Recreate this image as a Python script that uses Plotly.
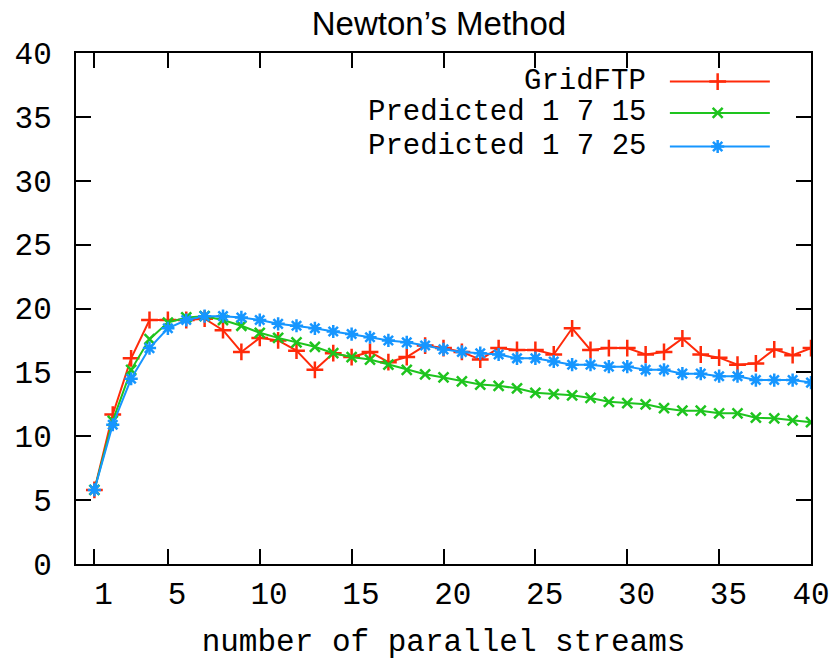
import plotly.graph_objects as go

streams = list(range(1, 41))
gridftp = [5.8, 11.7, 16.1, 19.1, 19.1, 19.1, 19.2, 18.3, 16.6, 17.7,
           17.5, 16.7, 15.2, 16.5, 16.2, 16.6, 15.8, 16.2, 17.1, 16.9,
           16.6, 16.0, 16.9, 16.75, 16.75, 16.4, 18.45, 16.75, 16.9, 16.9,
           16.4, 16.6, 17.65, 16.4, 16.15, 15.6, 15.7, 16.8, 16.35, 16.9]
pred_1_7_15 = [5.8, 11.2, 15.2, 17.6, 18.9, 19.3, 19.4, 19.1, 18.65, 18.1,
               17.7, 17.35, 17.0, 16.5, 16.2, 16.0, 15.6, 15.2, 14.85, 14.6,
               14.3, 14.05, 13.95, 13.75, 13.4, 13.3, 13.2, 13.0, 12.7, 12.6,
               12.5, 12.2, 12.0, 12.0, 11.8, 11.8, 11.45, 11.4, 11.25, 11.1]
pred_1_7_25 = [5.8, 10.9, 14.5, 16.9, 18.45, 19.1, 19.4, 19.4, 19.3, 19.1,
               18.8, 18.65, 18.45, 18.2, 18.0, 17.75, 17.5, 17.35, 17.1, 16.8,
               16.6, 16.5, 16.4, 16.1, 16.1, 15.85, 15.6, 15.6, 15.45, 15.45,
               15.2, 15.2, 14.9, 14.9, 14.7, 14.7, 14.4, 14.4, 14.4, 14.2]

series_names = ["GridFTP", "Predicted 1 7 15", "Predicted 1 7 25"]
x_tickvals = [1, 5, 10, 15, 20, 25, 30, 35, 40]
x_ticktext = ["\u00a01", "\u00a05", "\u00a010", "\u00a015", "\u00a020",
              "\u00a025", "\u00a030", "\u00a035", "40"]
y_tickvals = [0, 5, 10, 15, 20, 25, 30, 35, 40]

RED, GREEN, BLUE = "#ff2a0a", "#1ec41e", "#1696ff"
MONO = "Liberation Mono, DejaVu Sans Mono, monospace"
FS = 31

styles = [
    (gridftp, RED, "cross-thin", 12),
    (pred_1_7_15, GREEN, "x-thin", 10),
    (pred_1_7_25, BLUE, "asterisk", 11),
]

fig = go.Figure()
for (vals, col, sym, sz), name in zip(styles, series_names):
    fig.add_trace(go.Scatter(
        x=streams, y=vals, mode="lines+markers", name=name, showlegend=False,
        line=dict(color=col, width=2),
        marker=dict(symbol=sym, size=sz, color=col, line=dict(color=col, width=2.5)),
    ))

# manual legend (text right-aligned, sample on the right, as in gnuplot)
leg_y = [0.944, 0.8826, 0.817]
for (vals, col, sym, sz), name, ly in zip(styles, series_names, leg_y):
    fig.add_annotation(xref="paper", yref="paper", x=0.778, y=ly, text=name,
                       showarrow=False, xanchor="right", yanchor="middle",
                       font=dict(family=MONO, size=29, color="black"))
    fig.add_shape(type="line", xref="paper", yref="paper", x0=0.808, x1=0.944,
                  y0=ly, y1=ly, line=dict(color=col, width=2))
    fig.add_trace(go.Scatter(
        x=[0.873], y=[ly], xaxis="x2", yaxis="y2", mode="markers", showlegend=False,
        hoverinfo="skip",
        marker=dict(symbol=sym, size=sz, color=col, line=dict(color=col, width=2.5)),
    ))

# page body has an 8px margin, so the figure is sized/shifted to compensate
fig.update_layout(
    width=832, height=652,
    margin=dict(l=68, r=29, t=45, b=96, autoexpand=False),
    paper_bgcolor="white", plot_bgcolor="white",
    title=dict(text="Newton’s Method", x=0.518, xanchor="center", y=1, yanchor="top",
               automargin=False, pad=dict(t=4, b=0),
               font=dict(family="Liberation Sans, Arial, sans-serif", size=33, color="black")),
    xaxis=dict(range=[0, 40], tickvals=x_tickvals, ticktext=x_ticktext,
               ticks="inside", ticklen=15, tickwidth=2, tickcolor="black",
               showline=True, linecolor="black", linewidth=2, mirror="ticks",
               showgrid=False, zeroline=False, automargin=False,
               tickfont=dict(family=MONO, size=FS, color="black"),
               ticklabelstandoff=1,
               title=dict(text="number of parallel streams",
                          font=dict(family=MONO, size=FS, color="black"), standoff=17)),
    yaxis=dict(range=[0, 40], tickvals=y_tickvals,
               ticks="inside", ticklen=15, tickwidth=2, tickcolor="black",
               showline=True, linecolor="black", linewidth=2, mirror="ticks",
               showgrid=False, zeroline=False, automargin=False,
               tickfont=dict(family=MONO, size=FS, color="black"),
               ticklabelstandoff=16),
    xaxis2=dict(range=[0, 1], overlaying="x", visible=False, fixedrange=True),
    yaxis2=dict(range=[0, 1], overlaying="y", visible=False, fixedrange=True),
)

fig.write_html("out.html")
